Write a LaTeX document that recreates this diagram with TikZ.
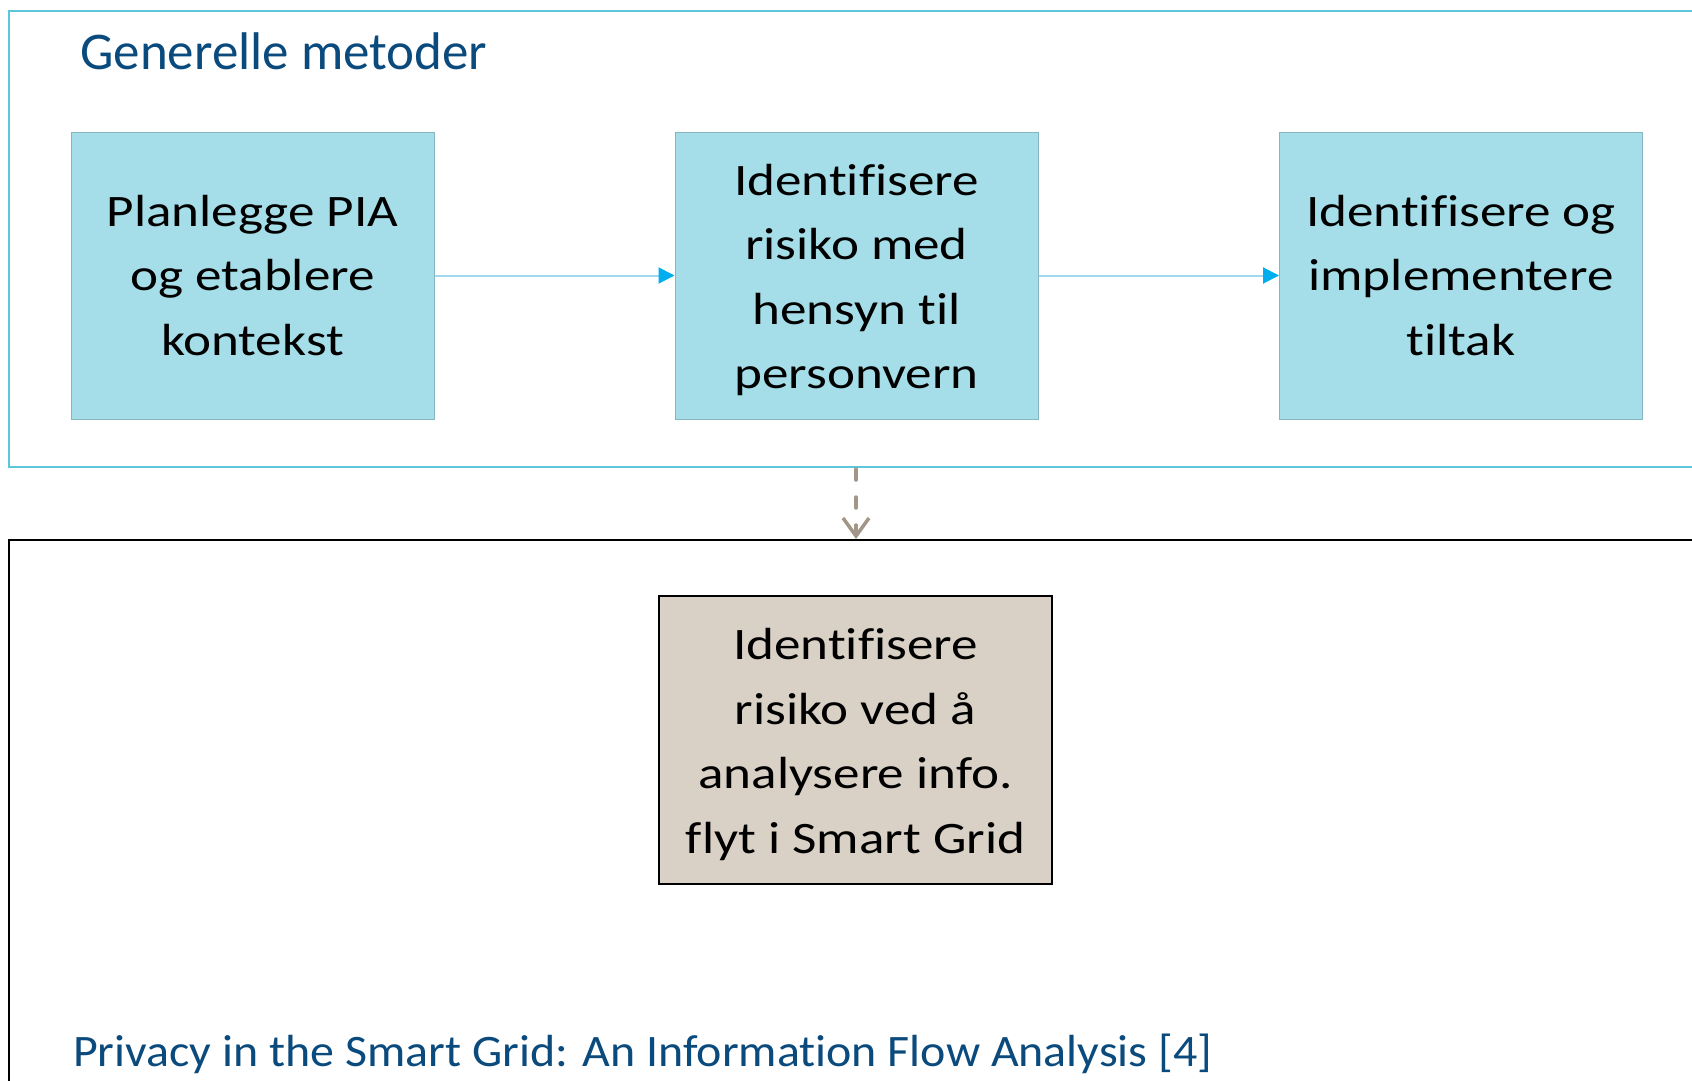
\documentclass[tikz,border=0pt]{standalone}
\usepackage{fontspec}
\setmainfont[Ligatures=NoCommon]{Carlito}
\newfontfamily\boxfont[FakeStretch=1.18,Ligatures=NoCommon]{Carlito}
\newfontfamily\reffont[FakeStretch=1.065,Ligatures=NoCommon]{Carlito}
\usetikzlibrary{arrows.meta}
\definecolor{boxfill}{HTML}{A5DEE9}
\definecolor{boxline}{HTML}{86B5C2}
\definecolor{outerline}{HTML}{5DC6DA}
\definecolor{arrline}{HTML}{9FD8EF}
\definecolor{arrhead}{HTML}{00AEEF}
\definecolor{dashcol}{HTML}{A29689}
\definecolor{grayfill}{HTML}{D9D0C6}
\definecolor{titlecol}{HTML}{0A4A7C}
\tikzset{
  stepbox/.style={draw=boxline, line width=1pt, fill=boxfill, minimum width=363pt, minimum height=287pt, align=center, inner sep=0pt, font=\boxfont\fontsize{45}{64.5}\selectfont},
  flowarrow/.style={draw=arrline, line width=2pt, -{Triangle[length=16pt,width=16pt,color=arrhead]}},
  titletext/.style={text=titlecol, anchor=base west, inner sep=0pt},
}
\begin{document}
\begin{tikzpicture}[x=1pt,y=-1pt]
\useasboundingbox (0,0) rectangle (1692,1081);
\clip (0,0) rectangle (1692,1081);
\fill[white] (0,0) rectangle (1692,1081);
% outer frames
\draw[outerline, line width=2pt] (9,11) rectangle (1720,467);
\draw[black, line width=2pt] (9,540) rectangle (1720,1120);
\coordinate (topedge) at (856,469);
\coordinate (botedge) at (856,539);
% title
\node[titletext, font=\fontsize{53}{60}\selectfont] (title) at (80,70) {Generelle metoder};
% steps
\node[stepbox] (s1) at (252.5,275.5) {Planlegge PIA\\og etablere\\kontekst};
\node[stepbox] (s2) at (856.5,275.5) {\rule{0pt}{40pt}Identifisere\\risiko med\\hensyn til\\personvern};
\node[stepbox] (s3) at (1461,275.5) {Identifisere og\\implementere\\tiltak};
\draw[flowarrow] (s1.east) -- (s2.west);
\draw[flowarrow] (s2.east) -- (s3.west);
% dashed link
\draw[dashcol, line width=3.5pt, line cap=round, dash pattern=on 11pt off 17pt, -{Straight Barb[length=18pt,width=26pt,line width=3.5pt]}] (topedge) -- (botedge);
% gray box
\node[draw=black, line width=2pt, fill=grayfill, minimum width=393pt, minimum height=288pt, align=center, inner sep=0pt, font=\boxfont\fontsize{45}{64.5}\selectfont] (g) at (855.5,740) {\rule{0pt}{40pt}Identifisere\\risiko ved å\\analysere info.\\flyt i Smart Grid};
% bottom title
\node[titletext, font=\reffont\fontsize{45}{50}\selectfont] (ref) at (73,1066) {Privacy in the Smart Grid: An Information Flow Analysis [4]};
\end{tikzpicture}
\end{document}
